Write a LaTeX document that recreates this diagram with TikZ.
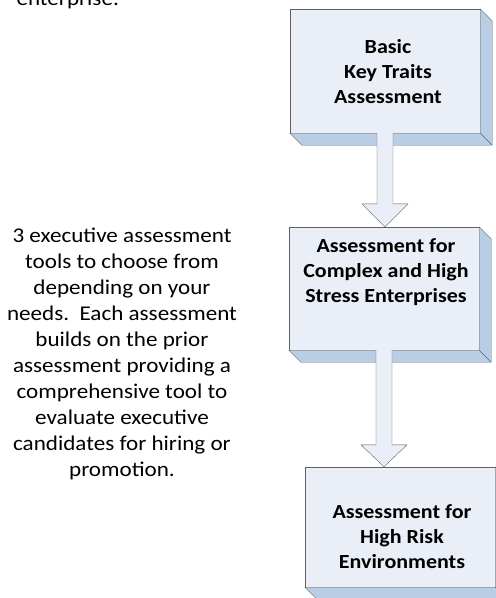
\documentclass[tikz,border=0pt]{standalone}
\usepackage{fontspec}
\setmainfont{Carlito}[FakeStretch=1.1]
\definecolor{faceblue}{RGB}{233,238,247}
\definecolor{sideblue}{RGB}{185,205,229}
\definecolor{edgegray}{RGB}{96,96,96}
\newcommand\extrude[1]{\draw[side] (#1.north east) -- ++(12,12) |- ([shift={(12pt,-12pt)}]#1.south west)
  -- (#1.south west) -- (#1.south east) -- cycle (#1.south east) -- ++(12,12);}
\begin{document}
\begin{tikzpicture}[x=1pt,y=-1pt,
    stage/.style={draw=edgegray,fill=faceblue,minimum width=190pt,inner sep=0pt},
    stagetext/.style={align=center,font=\fontsize{20}{25}\selectfont\bfseries},
    side/.style={draw=edgegray,fill=sideblue,line join=round},
    blockarrow/.style={draw=edgegray,fill=faceblue}]
  \useasboundingbox (0,0) rectangle (496,598);
  \node[anchor=base west,font=\fontsize{21}{26}\selectfont] (cut) at (13,5) {enterprise.};
  \path node[stage,minimum height=124pt] (basic) at (385,71) {}
        node[stage,minimum height=123pt] (complex) at (384,288.5) {}
        node[stage,minimum height=120pt] (risk) at (400,527) {};
  \extrude{basic} \extrude{complex} \extrude{risk}
  \path (basic.south |- complex.north) coordinate (tip1)
        (complex.south |- risk.north) coordinate (tip2);
  % block arrows between the stages
  \draw[blockarrow] ([xshift=-8pt]basic.south) -- ([shift={(-8pt,23pt)}]tip1) -- ([shift={(-23pt,23pt)}]tip1)
    -- (tip1) -- ([shift={(23pt,23pt)}]tip1) -- ([shift={(8pt,23pt)}]tip1) -- ([xshift=8pt]basic.south);
  \draw[blockarrow] ([xshift=-8pt]complex.south) -- ([shift={(-8pt,22pt)}]tip2) -- ([shift={(-23pt,22pt)}]tip2)
    -- (tip2) -- ([shift={(23pt,22pt)}]tip2) -- ([shift={(8pt,22pt)}]tip2) -- ([xshift=8pt]complex.south);
  \node[stagetext] (basic-t) at (388,72) {Basic\\Key Traits\\Assessment};
  \node[stagetext] (complex-t) at (386,272) {Assessment for\\Complex and High\\Stress Enterprises};
  \node[stagetext] (risk-t) at (402,537) {Assessment for\\High Risk\\Environments};
  \node[align=center,font=\fontsize{21}{26}\selectfont] (about) at (122,354)
    {3 executive assessment\\tools to choose from\\depending on your\\needs.\ \ Each assessment\\builds on the prior\\
     assessment providing a\\comprehensive tool to\\evaluate executive\\candidates for hiring or\\promotion.};
\end{tikzpicture}
\end{document}
